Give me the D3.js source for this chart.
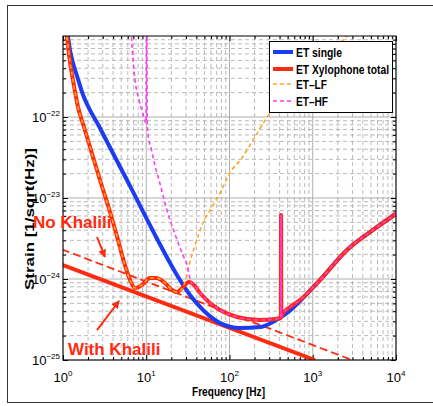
<!DOCTYPE html>
<html>
<head>
<meta charset="utf-8">
<script src="https://cdn.jsdelivr.net/npm/d3@7"></script>
<style>
  body { margin: 0; background: #fff; }
  text { font-family: "Liberation Sans", Arial, Helvetica, sans-serif; }
</style>
</head>
<body>
<div id="chart"></div>
<script>
// ET sensitivity curves (Hz, 1/sqrt(Hz))
const singleFreq = [1.117, 1.213, 1.318, 1.473, 1.69, 2.78, 6.38, 13.5, 19.3, 25.4, 33.5, 48.1, 76.9, 134, 232, 333, 491, 703, 1222, 2578, 5297, 10000];
const singleStrain = [1.19e-21, 6.72e-22, 4.64e-22, 3.21e-22, 2.04e-22, 7.31e-23, 1.41e-23, 3.12e-24, 1.58e-24, 9.72e-25, 6.34e-25, 4.14e-25, 2.86e-25, 2.48e-25, 2.55e-25, 2.95e-25, 3.80e-25, 5.35e-25, 9.72e-25, 2.28e-24, 4.03e-24, 6.4e-24];

const xyloFreq = [1.086, 1.148, 1.213, 1.318, 1.514, 1.787, 2.11, 2.78, 3.67, 4.58, 5.41, 6.38, 7.33, 8.89, 11.1, 13.1, 16.8, 20.4, 23.4, 27.6, 32.6, 36.5, 44.2, 58.3, 76.9, 123, 232, 352, 413, 416, 419, 427, 533, 703, 1222, 2578, 5297, 10000];
const xyloStrain = [1.19e-21, 7.74e-22, 4.77e-22, 2.86e-22, 1.33e-22, 7.53e-23, 4.27e-23, 1.67e-23, 6.72e-24, 3.03e-24, 1.62e-24, 9.72e-25, 7.74e-25, 8.43e-25, 1.03e-24, 1.03e-24, 8.93e-25, 7.31e-25, 6.91e-25, 7.96e-25, 9.18e-25, 8.67e-25, 6.71e-25, 5.06e-25, 4.14e-25, 3.40e-25, 3.12e-25, 3.21e-25, 3.3e-25, 6.17e-24, 3.4e-25, 3.6e-25, 4.51e-25, 5.5e-25, 9.72e-25, 2.28e-24, 4.03e-24, 6.4e-24];

const lfFreq = [1.086, 1.148, 1.213, 1.318, 1.514, 1.787, 2.11, 2.78, 3.67, 4.58, 5.41, 6.38, 7.33, 8.89, 11.1, 13.1, 16.8, 20.4, 23.4, 26.9, 30.0, 33.5, 38.6, 48.1, 61.6, 76.9, 101, 141, 202, 306, 703, 2578, 3221];
const lfStrain = [1.19e-21, 7.74e-22, 4.77e-22, 2.86e-22, 1.33e-22, 7.53e-23, 4.27e-23, 1.67e-23, 6.72e-24, 3.03e-24, 1.62e-24, 9.72e-25, 7.74e-25, 8.43e-25, 1.03e-24, 1.03e-24, 8.93e-25, 7.31e-25, 6.91e-25, 7.6e-25, 1.0e-24, 1.62e-24, 2.63e-24, 4.91e-24, 7.74e-24, 1.15e-23, 2.04e-23, 3.12e-23, 5.66e-23, 1.12e-22, 2.6e-22, 1e-21, 1.26e-21];

const hfFreq = [6.56, 6.93, 7.33, 8.18, 9.14, 9.93, 10.1, 10.3, 10.5, 11.5, 12.7, 14.6, 17.7, 22.1, 26.9, 31.7, 34.5, 36.5, 44.2, 58.3, 76.9, 123, 232, 352, 413, 416, 419, 427, 533, 703, 1222, 2578, 5297, 10000];
const hfStrain = [1.19e-21, 5.06e-22, 2.86e-22, 1.62e-22, 1.09e-22, 8.43e-23, 3e-21, 7.8e-23, 6.0e-23, 4.03e-23, 2.55e-23, 1.51e-23, 7.11e-24, 3.6e-24, 2.1e-24, 1.35e-24, 9.0e-25, 8.67e-25, 6.71e-25, 5.06e-25, 4.14e-25, 3.40e-25, 3.12e-25, 3.21e-25, 3.3e-25, 6.17e-24, 3.4e-25, 3.6e-25, 4.51e-25, 5.5e-25, 9.72e-25, 2.28e-24, 4.03e-24, 6.4e-24];

// Khalili straight lines (end points)
const withKhaliliFreq = [0.97, 1064];
const withKhaliliStrain = [1.5e-24, 1e-25];
const noKhaliliFreq = [0.97, 2960];
const noKhaliliStrain = [2.32e-24, 1e-25];

const xTicks = [1, 10, 100, 1000, 10000];
const xTickExp = ['0', '1', '2', '3', '4'];
const yTicks = [1e-25, 1e-24, 1e-23, 1e-22];
const yTickExp = ['\u221225', '\u221224', '\u221223', '\u221222'];

const legendNames = ['ET single', 'ET Xylophone total', 'ET\u2013LF', 'ET\u2013HF'];

const W = 433, H = 406;
const svg = d3.select('#chart').append('svg').attr('width', W).attr('height', H);

// figure frame
svg.append('rect').attr('x', 7.5).attr('y', 5.5).attr('width', 440).attr('height', 397)
  .attr('fill', 'none').attr('stroke', '#333').attr('stroke-width', 1);

const x = d3.scaleLog().domain([1, 1e4]).range([63, 396]);
const y = d3.scaleLog().domain([1e-25, 1e-21]).range([360, 36]);

svg.append('clipPath').attr('id', 'clip').append('rect')
  .attr('x', 63).attr('y', 36).attr('width', 333).attr('height', 324);

// grid (minor dashed, major lighter solid)
const grid = svg.append('g');
const xMinor = [], yMinor = [];
for (let d = 0; d < 4; d++) for (let k = 2; k <= 9; k++) xMinor.push(k * Math.pow(10, d));
for (let d = -25; d < -21; d++) for (let k = 2; k <= 9; k++) yMinor.push(k * Math.pow(10, d));

grid.selectAll('.gx').data(xMinor).join('line')
  .attr('x1', d => x(d)).attr('x2', d => x(d)).attr('y1', 36).attr('y2', 360)
  .attr('stroke', '#aaa').attr('stroke-dasharray', '4,3').attr('stroke-width', 0.8);
grid.selectAll('.gy').data(yMinor).join('line')
  .attr('y1', d => y(d)).attr('y2', d => y(d)).attr('x1', 63).attr('x2', 396)
  .attr('stroke', '#aaa').attr('stroke-dasharray', '4,3').attr('stroke-width', 0.8);
grid.selectAll('.mx').data(xTicks).join('line')
  .attr('x1', d => x(d)).attr('x2', d => x(d)).attr('y1', 36).attr('y2', 360)
  .attr('stroke', '#999').attr('stroke-width', 0.8);
grid.selectAll('.my').data(yTicks).join('line')
  .attr('y1', d => y(d)).attr('y2', d => y(d)).attr('x1', 63).attr('x2', 396)
  .attr('stroke', '#999').attr('stroke-width', 0.8);

// axes (ticks inward on all sides)
function axisTicks(g, axis) { g.call(axis).select('.domain').remove(); g.selectAll('text').remove(); }
const fmtNone = () => '';
svg.append('g').attr('transform', 'translate(0,360)')
  .call(g => axisTicks(g, d3.axisTop(x).tickValues(xTicks).tickSize(5).tickFormat(fmtNone)));
svg.append('g').attr('transform', 'translate(0,360)')
  .call(g => axisTicks(g, d3.axisTop(x).tickValues(xMinor).tickSize(3).tickFormat(fmtNone)));
svg.append('g').attr('transform', 'translate(0,36)')
  .call(g => axisTicks(g, d3.axisBottom(x).tickValues(xTicks).tickSize(5).tickFormat(fmtNone)));
svg.append('g').attr('transform', 'translate(0,36)')
  .call(g => axisTicks(g, d3.axisBottom(x).tickValues(xMinor).tickSize(3).tickFormat(fmtNone)));
svg.append('g').attr('transform', 'translate(63,0)')
  .call(g => axisTicks(g, d3.axisRight(y).tickValues(yTicks).tickSize(5).tickFormat(fmtNone)));
svg.append('g').attr('transform', 'translate(63,0)')
  .call(g => axisTicks(g, d3.axisRight(y).tickValues(yMinor).tickSize(3).tickFormat(fmtNone)));
svg.append('g').attr('transform', 'translate(396,0)')
  .call(g => axisTicks(g, d3.axisLeft(y).tickValues(yTicks).tickSize(5).tickFormat(fmtNone)));
svg.append('g').attr('transform', 'translate(396,0)')
  .call(g => axisTicks(g, d3.axisLeft(y).tickValues(yMinor).tickSize(3).tickFormat(fmtNone)));

// tick labels with superscripts
const xl = svg.append('g').selectAll('text').data(xTicks).join('text')
  .attr('x', d => x(d)).attr('y', 382).attr('text-anchor', 'middle')
  .attr('font-size', 13).attr('fill', '#000');
xl.append('tspan').text('10');
xl.append('tspan').attr('dy', -6).attr('font-size', 8).text((d, i) => xTickExp[i]);

const yl = svg.append('g').selectAll('text').data(yTicks).join('text')
  .attr('x', 60).attr('y', d => y(d) + 5).attr('text-anchor', 'end')
  .attr('font-size', 13).attr('fill', '#000');
yl.append('tspan').text('10');
yl.append('tspan').attr('dy', -6).attr('font-size', 8).text((d, i) => yTickExp[i]);

svg.append('text').attr('x', 192).attr('y', 396)
  .attr('font-size', 13).attr('font-weight', 'bold')
  .attr('textLength', 73).attr('lengthAdjust', 'spacingAndGlyphs').text('Frequency [Hz]');
svg.append('text').attr('transform', 'translate(34,290) rotate(-90)')
  .attr('font-size', 13).attr('font-weight', 'bold')
  .attr('textLength', 142).attr('lengthAdjust', 'spacingAndGlyphs').text('Strain [1/sqrt(Hz)]');

// curves
const plot = svg.append('g').attr('clip-path', 'url(#clip)');
const line = d3.line().x(d => x(d[0])).y(d => y(d[1])).curve(d3.curveMonotoneX);
const zipped = (f, s) => f.map((v, i) => [v, s[i]]);

const blue = '#1b3cf2', red = '#ff2a10', orange = '#ffa81e', magenta = '#ff3cf0';

plot.append('path').datum(zipped(withKhaliliFreq, withKhaliliStrain)).attr('d', line)
  .attr('fill', 'none').attr('stroke', red).attr('stroke-width', 4);
plot.append('path').datum(zipped(noKhaliliFreq, noKhaliliStrain)).attr('d', line)
  .attr('fill', 'none').attr('stroke', red).attr('stroke-width', 1.8).attr('stroke-dasharray', '8,4');

plot.append('path').datum(zipped(singleFreq, singleStrain)).attr('d', line)
  .attr('fill', 'none').attr('stroke', blue).attr('stroke-width', 4);
plot.append('path').datum(zipped(xyloFreq, xyloStrain)).attr('d', line)
  .attr('fill', 'none').attr('stroke', red).attr('stroke-width', 4);
plot.append('path').datum(zipped(lfFreq, lfStrain)).attr('d', line)
  .attr('fill', 'none').attr('stroke', orange).attr('stroke-width', 1.6).attr('stroke-dasharray', '4,3');
plot.append('path').datum(zipped(hfFreq, hfStrain)).attr('d', line)
  .attr('fill', 'none').attr('stroke', magenta).attr('stroke-width', 1.6).attr('stroke-dasharray', '4,3');

// plot box
svg.append('rect').attr('x', 63).attr('y', 36).attr('width', 333).attr('height', 324)
  .attr('fill', 'none').attr('stroke', '#000').attr('stroke-width', 1);

// legend
const lg = svg.append('g');
lg.append('rect').attr('x', 269.5).attr('y', 41.5).attr('width', 123).attr('height', 71)
  .attr('fill', '#fff').attr('stroke', '#000').attr('stroke-width', 1);
const legendStyle = [
  { c: blue, w: 4, dash: null },
  { c: red, w: 4, dash: null },
  { c: orange, w: 1.6, dash: '4,3' },
  { c: magenta, w: 1.6, dash: '4,3' }
];
const legendY = [52, 69, 84, 101];
const legendWidth = [46, 93, 31, 32];
legendNames.forEach((name, i) => {
  lg.append('line').attr('x1', 273).attr('x2', 293).attr('y1', legendY[i]).attr('y2', legendY[i])
    .attr('stroke', legendStyle[i].c).attr('stroke-width', legendStyle[i].w)
    .attr('stroke-dasharray', legendStyle[i].dash);
  lg.append('text').attr('x', 296).attr('y', legendY[i] + 4.5)
    .attr('font-size', 12.5).attr('font-weight', 'bold')
    .attr('textLength', legendWidth[i]).attr('lengthAdjust', 'spacingAndGlyphs').text(name);
});

// annotations
svg.append('defs').append('marker').attr('id', 'arrow').attr('viewBox', '0 0 10 10')
  .attr('refX', 9).attr('refY', 5).attr('markerWidth', 4).attr('markerHeight', 4)
  .attr('orient', 'auto').append('path').attr('d', 'M0,0L10,5L0,10z').attr('fill', red);

const noteText = ['No Khalili', 'With Khalili'];
const noteFreq = [0.436, 1.148];
const noteStrain = [4.27e-24, 1.15e-25];
const arrowFrom = [[2.56, 3.30e-24], [2.56, 2.34e-25]];
const arrowTo = [[3.19, 1.87e-24], [4.71, 5.35e-25]];

noteText.forEach((t, i) => {
  svg.append('text').attr('x', x(noteFreq[i])).attr('y', y(noteStrain[i]))
    .attr('font-size', 17).attr('font-weight', 'bold').attr('fill', red).text(t);
  svg.append('line')
    .attr('x1', x(arrowFrom[i][0])).attr('y1', y(arrowFrom[i][1]))
    .attr('x2', x(arrowTo[i][0])).attr('y2', y(arrowTo[i][1]))
    .attr('stroke', red).attr('stroke-width', 2).attr('marker-end', 'url(#arrow)');
});
</script>
</body>
</html>
